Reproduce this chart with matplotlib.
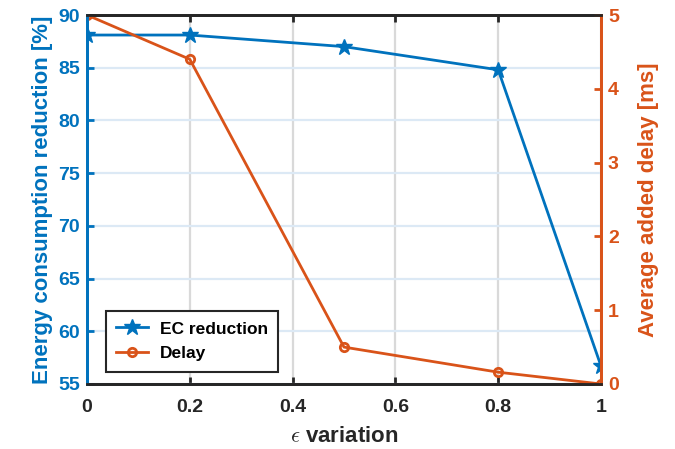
import matplotlib.pyplot as plt

plt.rcParams['font.family'] = ['Liberation Sans', 'DejaVu Sans']
plt.rcParams['font.weight'] = 'bold'
plt.rcParams['mathtext.fontset'] = 'cm'

# data
eps = [0, 0.2, 0.5, 0.8, 1.0]
ec_reduction = [88.1, 88.1, 87.0, 84.8, 56.7]
delay = [5.0, 4.40, 0.50, 0.16, 0.0]
xticks = [0, 0.2, 0.4, 0.6, 0.8, 1]
ec_ticks = [55, 60, 65, 70, 75, 80, 85, 90]
delay_ticks = [0, 1, 2, 3, 4, 5]

blue = '#0072BD'
orange = '#D95319'

fig = plt.figure(figsize=(6.75, 4.49), dpi=100)
ax = fig.add_axes([87 / 675, 1 - 384 / 449, (601 - 87) / 675, (384 - 15) / 449])
ax2 = ax.twinx()

# grids: vertical gray, horizontal tinted blue (matlab style)
ax.set_axisbelow(True)
ax.xaxis.grid(True, color='#d9d9d9', linewidth=1.6)
ax.yaxis.grid(True, color='#dce9f5', linewidth=1.6)

l1, = ax.plot(eps, ec_reduction, '-*', color=blue, lw=2, ms=12, label='EC reduction')
l2, = ax2.plot(eps, delay, '-o', color=orange, lw=2, ms=6, mfc='none', mew=2, label='Delay')

ax.set_xlim(0, 1)
ax.set_ylim(55, 90)
ax2.set_ylim(0, 5)
ax.set_xticks(xticks)
ax.set_xticklabels(['0', '0.2', '0.4', '0.6', '0.8', '1'])
ax.set_yticks(ec_ticks)
ax2.set_yticks(delay_ticks)

for a in (ax, ax2):
    for s in a.spines.values():
        s.set_linewidth(2)
    a.spines['top'].set_color('#262626')
    a.spines['bottom'].set_color('#262626')
    a.spines['left'].set_color(blue)
    a.spines['right'].set_color(orange)

ax.tick_params(axis='x', direction='in', length=5, width=2, colors='#262626',
               labelsize=14, pad=11, top=True)
ax.tick_params(axis='y', direction='in', length=5, width=2, colors=blue,
               labelsize=14, pad=5)
ax2.tick_params(axis='y', direction='in', length=5, width=2, colors=orange,
                labelsize=14, pad=5)

ax.set_xlabel(r'$\epsilon$ variation', fontsize=16, fontweight='bold', color='#262626', labelpad=7)
ax.set_ylabel('Energy consumption reduction [%]', fontsize=16, fontweight='bold', color=blue, labelpad=4)
ax2.set_ylabel('Average added delay [ms]', fontsize=16, fontweight='bold', color=orange, labelpad=14)

leg = ax2.legend([l1, l2], ['EC reduction', 'Delay'], loc='lower left',
                 bbox_to_anchor=(0.02, 0.01), fancybox=False, framealpha=1,
                 edgecolor='#262626', fontsize=12.5, handlelength=1.8,
                 handletextpad=0.7, borderpad=0.6, labelspacing=0.55)
leg.get_frame().set_linewidth(1.5)
for t in leg.get_texts():
    t.set_fontweight('bold')

fig.savefig('out.png', dpi=100)
